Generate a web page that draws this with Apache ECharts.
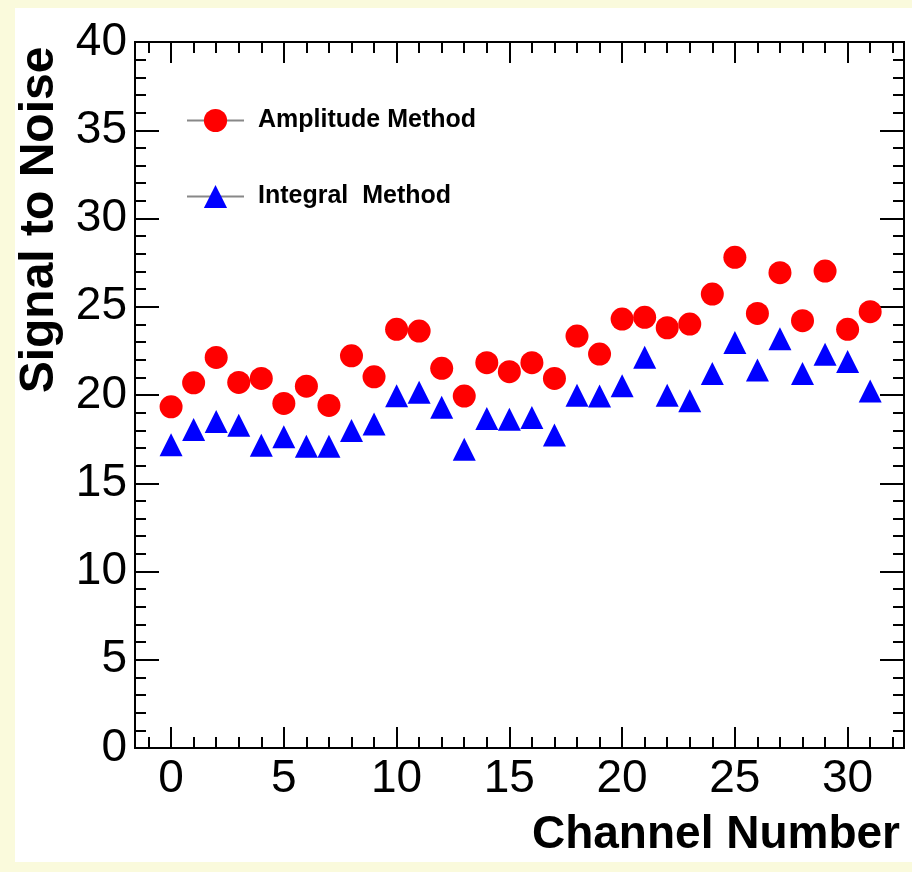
<!DOCTYPE html>
<html><head><meta charset="utf-8">
<script src="https://cdn.jsdelivr.net/npm/echarts@6/dist/echarts.min.js"></script>
<style>html,body{margin:0;padding:0;background:#fafadc;} #c{width:912px;height:872px;}</style>
</head><body><div id="c"></div>
<script>
const channels = [0,1,2,3,4,5,6,7,8,9,10,11,12,13,14,15,16,17,18,19,20,21,22,23,24,25,26,27,28,29,30,31];
const amplitudeSN = [19.33,20.69,22.13,20.71,20.94,19.52,20.50,19.41,22.22,21.03,23.72,23.62,21.51,19.94,21.83,21.32,21.83,20.94,23.34,22.32,24.30,24.40,23.81,24.02,25.72,27.80,24.62,26.93,24.21,27.02,23.72,24.72];
const integralSN = [17.18,18.04,18.50,18.29,17.16,17.63,17.09,17.09,17.99,18.36,19.96,20.16,19.31,16.93,18.67,18.62,18.73,17.74,19.98,19.94,20.53,22.14,19.98,19.67,21.22,22.98,21.41,23.19,21.22,22.31,21.90,20.22];
const xMajorTicks = [0,5,10,15,20,25,30];
const xMinorTicks = [-1,0,1,2,3,4,5,6,7,8,9,10,11,12,13,14,15,16,17,18,19,20,21,22,23,24,25,26,27,28,29,30,31,32];
const seriesNames = ['Amplitude Method', 'Integral  Method'];
const xTitle = 'Channel Number';
const yTitle = 'Signal to Noise';

const FONT = '"Liberation Sans", Arial, Helvetica, sans-serif';
const XMIN = -1.6, XMAX = 32.5, YMIN = 0, YMAX = 40;

function xAxisDef(pos, major, withLabels) {
  return {
    type: 'value', position: pos, min: XMIN, max: XMAX,
    axisLine: { show: true, onZero: false, lineStyle: { color: '#000', width: 2 } },
    splitLine: { show: false },
    axisTick: { show: true, inside: true, length: major ? 21 : 11,
      customValues: major ? xMajorTicks : xMinorTicks,
      lineStyle: { color: '#000', width: 2 } },
    axisLabel: withLabels ? { show: true, customValues: xMajorTicks, margin: 8,
      fontSize: 46, color: '#000', fontFamily: FONT } : { show: false }
  };
}
function yAxisDef(pos, withLabels) {
  return {
    type: 'value', position: pos, min: YMIN, max: YMAX, interval: 5,
    axisLine: { show: true, onZero: false, lineStyle: { color: '#000', width: 2 } },
    splitLine: { show: false },
    axisTick: { show: true, inside: true, length: 24, lineStyle: { color: '#000', width: 2 } },
    minorTick: { show: true, splitNumber: 5, length: 11, lineStyle: { color: '#000', width: 2 } },
    axisLabel: withLabels ? { show: true, margin: 8, fontSize: 46, color: '#000', fontFamily: FONT,
      padding: [6, 0, 0, 0] } : { show: false }
  };
}

const chart = echarts.init(document.getElementById('c'), null, { renderer: 'canvas' });
chart.setOption({
  animation: false,
  backgroundColor: '#fafadc',
  grid: { left: 135, right: 8, top: 42, bottom: 124, containLabel: false },
  xAxis: [
    xAxisDef('bottom', true, true),
    xAxisDef('bottom', false, false),
    xAxisDef('top', true, false),
    xAxisDef('top', false, false)
  ],
  yAxis: [
    yAxisDef('left', true),
    yAxisDef('right', false)
  ],
  legend: {
    orient: 'vertical', left: 181, top: 103,
    itemWidth: 57, itemHeight: 29, itemGap: 51,
    selectedMode: false,
    textStyle: { fontSize: 25, fontWeight: 'bold', color: '#000', fontFamily: FONT, padding: [0, 0, 0, 9] },
    lineStyle: { color: '#888', width: 2, opacity: 1 },
    data: seriesNames
  },
  graphic: [
    { type: 'rect', z: -10, shape: { x: 15, y: 8, width: 897, height: 854 }, style: { fill: '#ffffff' } },
    { type: 'text', x: 900, y: 835, style: { text: xTitle, textAlign: 'right', textVerticalAlign: 'middle',
      font: 'bold 46px ' + FONT, fill: '#000' } },
    { type: 'text', x: 40, y: 220, rotation: Math.PI / 2, style: { text: yTitle, textAlign: 'center', textVerticalAlign: 'middle',
      font: 'bold 48px ' + FONT, fill: '#000' } }
  ],
  series: [
    { name: seriesNames[0], type: 'line', xAxisIndex: 0, yAxisIndex: 0,
      data: channels.map((c, i) => [c, amplitudeSN[i]]),
      symbol: 'circle', symbolSize: 23, showSymbol: true,
      lineStyle: { opacity: 0, width: 0 },
      itemStyle: { color: '#ff0000', borderWidth: 0 }, z: 3 },
    { name: seriesNames[1], type: 'line', xAxisIndex: 0, yAxisIndex: 0,
      data: channels.map((c, i) => [c, integralSN[i]]),
      symbol: 'triangle', symbolSize: 23, showSymbol: true,
      lineStyle: { opacity: 0, width: 0 },
      itemStyle: { color: '#0000ff', borderWidth: 0 }, z: 3 }
  ]
});
</script></body></html>
